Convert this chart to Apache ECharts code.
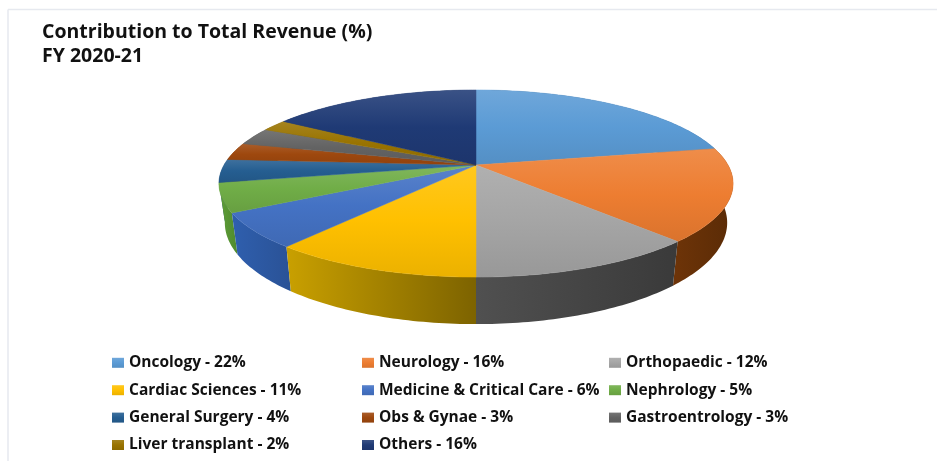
<!DOCTYPE html>
<html>
<head>
<meta charset="utf-8">
<style>
  html, body { margin: 0; padding: 0; background: #fff; }
  #main { width: 937px; height: 461px; }
</style>
<script src="https://cdn.jsdelivr.net/npm/echarts@6/dist/echarts.min.js"></script>
</head>
<body>
<div id="main"></div>
<script>
var categories = ['Oncology', 'Neurology', 'Orthopaedic', 'Cardiac Sciences', 'Medicine & Critical Care',
  'Nephrology', 'General Surgery', 'Obs & Gynae', 'Gastroentrology', 'Liver transplant', 'Others'];
var shares = [22, 16, 12, 11, 6, 5, 4, 3, 3, 2, 16];
var topColors = ['#5b9bd5', '#ed7d31', '#a5a5a5', '#ffc000', '#4472c4', '#70ad47', '#255e91', '#9e480e', '#636363', '#997300', '#1f3a75'];
var wallLeft = ['#2e5f8c', '#6e3408', '#505050', '#c9a000', '#2f5fae', '#5f9e38', '#1c4a73', '#7a380a', '#4a4a4a', '#735600', '#182c58'];
var wallRight = ['#2e5f8c', '#5a2b06', '#3a3a3a', '#7d6300', '#2a5296', '#4f8a2e', '#1c4a73', '#7a380a', '#4a4a4a', '#735600', '#182c58'];

// pie is drawn tilted, the front edge is closer so it comes out bigger
var cx = 476, cy = 165;
var radiusX = 252, radiusY = 89.9, persp = 0.198;
var depth = 37.7, bottomScale = 0.977;

function mix(hex, target, k) {
  var n = parseInt(hex.slice(1), 16);
  var c = [n >> 16, (n >> 8) & 255, n & 255].map(function (v) {
    return Math.round(v + (target - v) * k);
  });
  return 'rgb(' + c.join(',') + ')';
}

function project(angle, lower) {
  var u = Math.sin(angle), v = Math.cos(angle);
  var den = 1 + persp * v;
  var x = radiusX * u / den;
  var y = cy - radiusY * v / den;
  if (lower) {
    return [cx + x * bottomScale, y + depth / den];
  }
  return [cx + x, y];
}

function arcPoints(from, to, lower) {
  var pts = [];
  var steps = Math.max(2, Math.ceil((to - from) * 180 / Math.PI));
  for (var i = 0; i <= steps; i++) {
    pts.push(project(from + (to - from) * i / steps, lower));
  }
  return pts;
}

function faceFill(color) {
  return new echarts.graphic.LinearGradient(0, 0, 0, 1, [
    { offset: 0, color: mix(color, 255, 0.12) },
    { offset: 0.5, color: color },
    { offset: 1, color: mix(color, 0, 0.08) }
  ]);
}

function renderSlice(params, api) {
  var from = api.value(0) / 100 * Math.PI * 2;
  var to = api.value(1) / 100 * Math.PI * 2;
  var i = params.seriesIndex;
  var top = arcPoints(from, to, false);
  var wall = top.concat(arcPoints(from, to, true).reverse());
  var face = [[cx, cy]].concat(top);
  var wallFill = new echarts.graphic.LinearGradient(0, 0, 1, 0, [
    { offset: 0, color: wallLeft[i] },
    { offset: 1, color: wallRight[i] }
  ]);
  var faceColor = faceFill(topColors[i]);
  // walls closer to the front have to paint over the ones behind them
  var wallOrder = 1 + Math.round(100 * (1 - Math.cos((from + to) / 2)));
  return {
    type: 'group',
    children: [
      { type: 'polygon', z2: wallOrder, shape: { points: wall }, style: { fill: wallFill } },
      { type: 'polygon', z2: 1000, shape: { points: face }, style: { fill: faceColor, stroke: faceColor, lineWidth: 0.5 } }
    ]
  };
}

var names = [];
var series = [];
var sum = 0;
categories.forEach(function (cat, i) {
  var name = cat + ' - ' + shares[i] + '%';
  names.push(name);
  series.push({
    name: name,
    type: 'custom',
    coordinateSystem: 'none',
    renderItem: renderSlice,
    itemStyle: { color: faceFill(topColors[i]) },
    data: [[sum, sum + shares[i]]]
  });
  sum += shares[i];
});

function legendColumn(left, items) {
  return {
    orient: 'vertical',
    left: left,
    top: 354,
    padding: 0,
    itemWidth: 12,
    itemHeight: 10,
    itemGap: 9.8,
    selectedMode: false,
    icon: 'rect',
    textStyle: { fontFamily: 'Open Sans', fontWeight: 'bold', fontSize: 15.5, color: '#111', lineHeight: 17.6, height: 17.6 },
    data: items
  };
}

var chart = echarts.init(document.getElementById('main'));
chart.setOption({
  animation: false,
  backgroundColor: '#fff',
  title: {
    text: 'Contribution to Total Revenue (%)\nFY 2020-21',
    left: 42,
    top: 20,
    padding: 0,
    textStyle: { fontFamily: 'Open Sans', fontWeight: 'bold', fontSize: 19.5, lineHeight: 24, color: '#111' }
  },
  // faint frame of the original slide, top and left side only
  graphic: [
    { type: 'line', shape: { x1: 8, y1: 9.5, x2: 937, y2: 9.5 }, style: { stroke: '#e6e9ef', lineWidth: 1.5 } },
    { type: 'line', shape: { x1: 8, y1: 9.5, x2: 8, y2: 461 }, style: { stroke: '#e6e9ef', lineWidth: 1.5 } }
  ],
  legend: [
    legendColumn(112, [names[0], names[3], names[6], names[9]]),
    legendColumn(362, [names[1], names[4], names[7], names[10]]),
    legendColumn(609, [names[2], names[5], names[8]])
  ],
  series: series
});
</script>
</body>
</html>
